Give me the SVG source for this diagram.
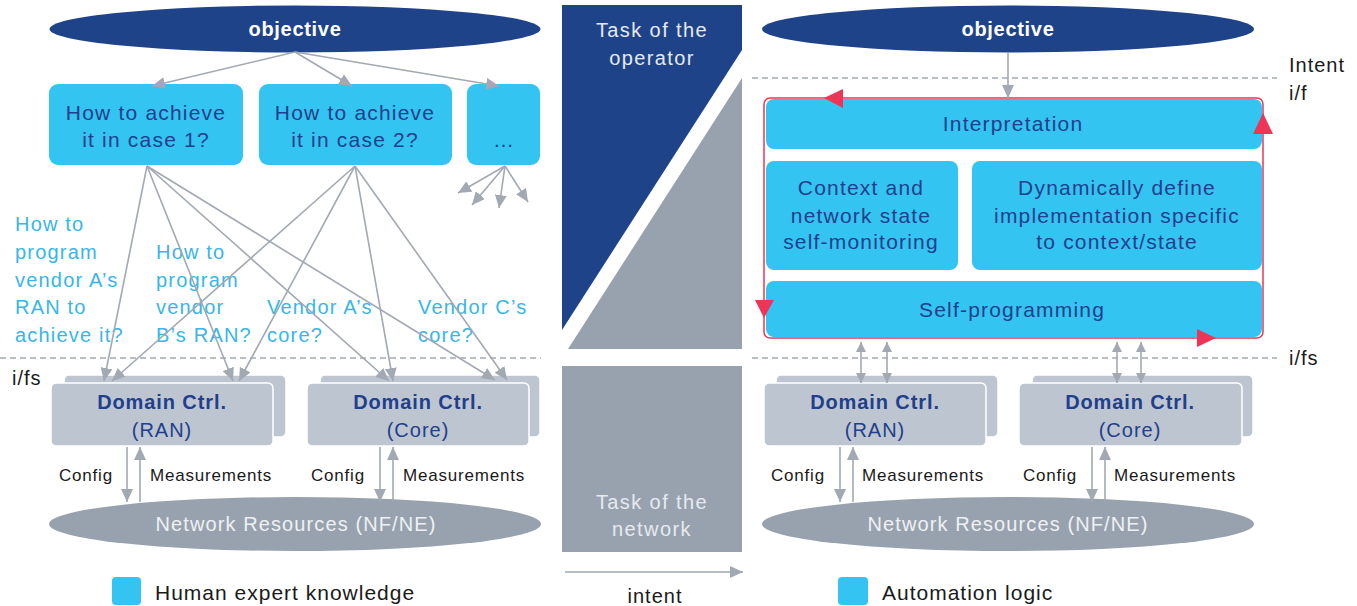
<svg xmlns="http://www.w3.org/2000/svg" width="1357" height="606" viewBox="0 0 1357 606">
<style>
text{font-family:"Liberation Sans",Arial,sans-serif}
.bt{font-size:21px;fill:#213F8C;letter-spacing:1.2px;text-anchor:middle}
.vt{font-size:20px;fill:#38B6E9;letter-spacing:1.2px}
.dt{font-size:20px;font-weight:bold;fill:#213F8C;letter-spacing:0.9px;text-anchor:middle}
.dt2{font-size:20px;fill:#213F8C;letter-spacing:1px;text-anchor:middle}
.sm{font-size:17px;fill:#1A1A1A;letter-spacing:0.8px}
.nr{font-size:20px;fill:#EEF1F4;letter-spacing:1.1px;text-anchor:middle}
.ob{font-size:20px;font-weight:bold;fill:#FFFFFF;letter-spacing:0.7px;text-anchor:middle}
.lb{font-size:20px;fill:#1A1A1A;letter-spacing:1px}
.lg{font-size:21px;fill:#1A1A1A;letter-spacing:1px}
.tk{font-size:20px;fill:#E6EAF0;letter-spacing:1.4px;text-anchor:middle}
.cy{fill:#34C4F2}
.dom{fill:#BDC6D0;stroke:#FFFFFF;stroke-width:1.5}
.con{stroke:#A2A9B2;stroke-width:1.6;fill:none;marker-end:url(#ah)}
.bi{stroke:#A2A9B2;stroke-width:1.6;fill:none;marker-end:url(#sh);marker-start:url(#sh)}
.dash{stroke:#A2A9B2;stroke-width:1.5;stroke-dasharray:6 4;fill:none}
.red{fill:#EE3558}
</style>
<defs>
<marker id="ah" markerUnits="userSpaceOnUse" markerWidth="14" markerHeight="12" refX="13" refY="6" orient="auto">
<path d="M0,0 L13,6 L0,12 Z" fill="#A2A9B2"/>
</marker>
<marker id="sh" markerUnits="userSpaceOnUse" markerWidth="11" markerHeight="10" refX="10" refY="5" orient="auto-start-reverse">
<path d="M0,0 L10,5 L0,10 Z" fill="#A2A9B2"/>
</marker>
</defs>

<!-- dashed interface lines -->
<g id="interfaces">
<line class="dash" x1="0" y1="358" x2="541" y2="358"/>
<line class="dash" x1="752" y1="78" x2="1277" y2="78"/>
<line class="dash" x1="752" y1="358" x2="1277" y2="358"/>
<text class="lb" x="12" y="385">i/fs</text>
<text class="lb" x="1289" y="72">Intent</text>
<text class="lb" x="1289" y="100">i/f</text>
<text class="lb" x="1289" y="365">i/fs</text>
</g>

<!-- centre panel -->
<g id="center">
<polygon points="562,5 742,5 742,50 562,330" fill="#1F4389"/>
<polygon points="742,78 742,349 568,349" fill="#98A2AE"/>
<rect x="562" y="366" width="180" height="186" fill="#98A2AE"/>
<text class="tk" x="652" y="37">Task of the</text>
<text class="tk" x="652" y="65">operator</text>
<text class="tk" x="652" y="509">Task of the</text>
<text class="tk" x="652" y="536">network</text>
<line class="con" x1="565" y1="572" x2="743" y2="572"/>
<text class="lb" x="655" y="603" text-anchor="middle">intent</text>
</g>

<!-- LEFT SIDE -->
<g id="objective-left">
<ellipse cx="295" cy="29" rx="245.5" ry="23.5" fill="#1F4389"/>
<text class="ob" x="295" y="36">objective</text>
</g>
<g id="case1">
<rect class="cy" x="49" y="84" width="194" height="81" rx="9"/>
<text class="bt" x="146" y="120">How to achieve</text>
<text class="bt" x="146" y="147">it in case 1?</text>
</g>
<g id="case2">
<rect class="cy" x="259" y="84" width="193" height="81" rx="9"/>
<text class="bt" x="355" y="120">How to achieve</text>
<text class="bt" x="355" y="147">it in case 2?</text>
</g>
<g id="case3">
<rect class="cy" x="467" y="84" width="73" height="81" rx="9"/>
<text class="bt" x="504" y="147">…</text>
</g>

<g id="vendor-labels">
<text class="vt" x="15" y="231">How to</text>
<text class="vt" x="15" y="259">program</text>
<text class="vt" x="15" y="287">vendor A’s</text>
<text class="vt" x="15" y="314">RAN to</text>
<text class="vt" x="15" y="342">achieve it?</text>
<text class="vt" x="156" y="259">How to</text>
<text class="vt" x="156" y="287">program</text>
<text class="vt" x="156" y="314">vendor</text>
<text class="vt" x="156" y="342">B’s RAN?</text>
<text class="vt" x="267" y="314">Vendor A’s</text>
<text class="vt" x="267" y="342">core?</text>
<text class="vt" x="418" y="314">Vendor C’s</text>
<text class="vt" x="418" y="342">core?</text>
</g>

<g id="dc-ran-left">
<rect class="dom" x="64" y="375" width="222" height="62" rx="5"/>
<rect class="dom" x="51" y="383" width="222" height="63" rx="5"/>
<text class="dt" x="162" y="409">Domain Ctrl.</text>
<text class="dt2" x="162" y="437">(RAN)</text>
</g>
<g id="dc-core-left">
<rect class="dom" x="320" y="375" width="220" height="62" rx="5"/>
<rect class="dom" x="307" y="383" width="222" height="63" rx="5"/>
<text class="dt" x="418" y="409">Domain Ctrl.</text>
<text class="dt2" x="418" y="437">(Core)</text>
</g>
<g id="nr-left">
<ellipse cx="295" cy="524" rx="246" ry="27" fill="#98A2AE"/>
<text class="nr" x="296" y="531">Network Resources (NF/NE)</text>
</g>
<g id="legend-left">
<rect class="cy" x="112" y="577" width="29" height="28" rx="4"/>
<text class="lg" x="155" y="600">Human expert knowledge</text>
</g>
<g id="labels-left">
<text class="sm" x="59" y="481">Config</text>
<text class="sm" x="150" y="481">Measurements</text>
<text class="sm" x="311" y="481">Config</text>
<text class="sm" x="403" y="481">Measurements</text>
</g>

<!-- RIGHT SIDE -->
<g id="objective-right">
<ellipse cx="1008" cy="29" rx="246" ry="23.5" fill="#1F4389"/>
<text class="ob" x="1008" y="36">objective</text>
</g>
<g id="automation-loop">
<rect x="764" y="98" width="499" height="240" rx="6" fill="#FFFFFF" stroke="#EE3558" stroke-width="1.5"/>
</g>
<g id="interpretation">
<rect class="cy" x="766" y="99" width="496" height="50" rx="8"/>
<text class="bt" x="1013" y="131">Interpretation</text>
</g>
<g id="context">
<rect class="cy" x="766" y="161" width="192" height="109" rx="8"/>
<text class="bt" x="861" y="195">Context and</text>
<text class="bt" x="861" y="223">network state</text>
<text class="bt" x="861" y="249">self-monitoring</text>
</g>
<g id="define">
<rect class="cy" x="972" y="161" width="290" height="109" rx="8"/>
<text class="bt" x="1117" y="195">Dynamically define</text>
<text class="bt" x="1117" y="223">implementation specific</text>
<text class="bt" x="1117" y="249">to context/state</text>
</g>
<g id="self-programming">
<rect class="cy" x="766" y="281" width="496" height="56" rx="8"/>
<text class="bt" x="1012" y="317">Self-programming</text>
</g>
<g id="loop-arrows">
<polygon class="red" points="824,98 843,89 843,108"/>
<polygon class="red" points="1263,113 1253,134 1273,134"/>
<polygon class="red" points="764,318 755,300 774,300"/>
<polygon class="red" points="1216,338 1197,329 1197,347"/>
</g>

<g id="dc-ran-right">
<rect class="dom" x="776" y="375" width="222" height="62" rx="5"/>
<rect class="dom" x="764" y="383" width="222" height="63" rx="5"/>
<text class="dt" x="875" y="409">Domain Ctrl.</text>
<text class="dt2" x="875" y="437">(RAN)</text>
</g>
<g id="dc-core-right">
<rect class="dom" x="1032" y="375" width="221" height="62" rx="5"/>
<rect class="dom" x="1019" y="383" width="223" height="63" rx="5"/>
<text class="dt" x="1130" y="409">Domain Ctrl.</text>
<text class="dt2" x="1130" y="437">(Core)</text>
</g>
<g id="nr-right">
<ellipse cx="1008" cy="524" rx="246" ry="27" fill="#98A2AE"/>
<text class="nr" x="1008" y="531">Network Resources (NF/NE)</text>
</g>
<g id="legend-right">
<rect class="cy" x="838" y="577" width="30" height="28" rx="4"/>
<text class="lg" x="882" y="600">Automation logic</text>
</g>
<g id="labels-right">
<text class="sm" x="771" y="481">Config</text>
<text class="sm" x="862" y="481">Measurements</text>
<text class="sm" x="1023" y="481">Config</text>
<text class="sm" x="1114" y="481">Measurements</text>
</g>

<!-- connectors -->
<g id="connectors">
<line class="con" x1="295" y1="52" x2="152" y2="86"/>
<line class="con" x1="295" y1="52" x2="352" y2="86"/>
<line class="con" x1="295" y1="52" x2="499" y2="86"/>
<line class="con" x1="147" y1="166" x2="104" y2="381"/>
<line class="con" x1="147" y1="166" x2="233" y2="381"/>
<line class="con" x1="147" y1="166" x2="389" y2="381"/>
<line class="con" x1="147" y1="166" x2="495" y2="380"/>
<line class="con" x1="355" y1="166" x2="112" y2="381"/>
<line class="con" x1="355" y1="166" x2="239" y2="381"/>
<line class="con" x1="355" y1="166" x2="393" y2="381"/>
<line class="con" x1="355" y1="166" x2="507" y2="380"/>
<line class="con" x1="505" y1="166" x2="458" y2="193"/>
<line class="con" x1="505" y1="166" x2="472" y2="205"/>
<line class="con" x1="505" y1="166" x2="499" y2="208"/>
<line class="con" x1="505" y1="166" x2="528" y2="202"/>
<line class="con" x1="127" y1="447" x2="127" y2="502"/>
<line class="con" x1="140" y1="502" x2="140" y2="447"/>
<line class="con" x1="380" y1="447" x2="380" y2="502"/>
<line class="con" x1="393" y1="502" x2="393" y2="447"/>
<line class="con" x1="1008" y1="53" x2="1008" y2="98"/>
<line class="bi" x1="861" y1="342" x2="861" y2="383"/>
<line class="bi" x1="887" y1="342" x2="887" y2="383"/>
<line class="bi" x1="1117" y1="342" x2="1117" y2="383"/>
<line class="bi" x1="1141" y1="342" x2="1141" y2="383"/>
<line class="con" x1="840" y1="447" x2="840" y2="502"/>
<line class="con" x1="853" y1="502" x2="853" y2="447"/>
<line class="con" x1="1092" y1="447" x2="1092" y2="502"/>
<line class="con" x1="1105" y1="502" x2="1105" y2="447"/>
</g>
</svg>
